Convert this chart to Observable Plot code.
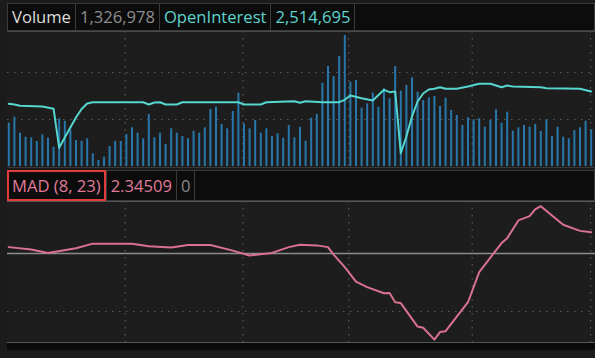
<!DOCTYPE html>
<html>
<head>
<meta charset="utf-8">
<script src="https://cdn.jsdelivr.net/npm/d3@7"></script>
<script src="https://cdn.jsdelivr.net/npm/@observablehq/plot@0.6"></script>
<style>
  html, body { margin: 0; padding: 0; background: #1b1b1b; width: 595px; height: 358px; overflow: hidden; font-family: "Open Sans", sans-serif; }
  .hdr { position: absolute; left: 7px; right: 0; height: 28px; background: #0c0c0c; display: flex; }
  .box { height: 26px; line-height: 26px; border: 1px solid #3a3a3a; border-right: none; font-size: 16.6px; padding: 0 4px; white-space: nowrap; box-sizing: content-box; }
  .box.fill { flex: 1; border-right: 1px solid #3a3a3a; }
  .panel { position: absolute; left: 7px; width: 588px; background: #1d1d1d; }
  .hline { position: absolute; left: 7px; width: 588px; height: 1px; background: #4a4a4a; }
  svg { display: block; }
</style>
</head>
<body>
<div id="hdr1" class="hdr" style="top:3px"></div>
<div id="top" class="panel" style="top:31px;height:136px"></div>
<div class="hline" style="top:31px"></div>
<div class="hline" style="top:167px;background:#3a3a3a"></div>
<div id="hdr2" class="hdr" style="top:170px;height:31px"></div>
<div id="bot" class="panel" style="top:201px;height:142px"></div>
<div class="hline" style="top:201px;background:#555"></div>
<div class="hline" style="top:342px;background:#555"></div>
<div style="position:absolute;left:7px;top:343px;width:588px;height:7px;background:#0b0b0b"></div>
<script>
// ---- header texts ----
const topHeader = [
  {text: "Volume", color: "#dcdcdc"},
  {text: "1,326,978", color: "#8e8e8e"},
  {text: "OpenInterest", color: "#5fd3cd"},
  {text: "2,514,695", color: "#5fd3cd"}
];
const madHeader = [
  {text: "MAD (8, 23)", color: "#e07c98"},
  {text: "2.34509", color: "#e07c98"},
  {text: "0", color: "#8a8a8a"}
];

// ---- data (bar index = trading day) ----
const volume = [43.3,49.3,33.3,29.3,28.7,25,31.7,28.3,19.3,47.7,45.3,36,26,25.3,27.7,12.7,6,9.3,20,25,25,32,38.7,33.3,27.7,52,28.7,33.3,22,37.7,33.3,30,27.7,35.3,33.3,38.7,57,59.3,42,37.7,55,73.3,42.7,37.7,46,33.3,37.7,30,32.7,28.3,41,28.7,
  39.3,25.3,48.3,52,83.3,100,90,110,131,84.3,86,58.3,62.7,73.3,59.3,77.7,67.7,100,75.3,81,88.7,74.3,66,68.7,70,60,68.3,56,51,41,48.7,46.7,47.7,39.3,46,56.7,43.3,54.3,35.3,38.7,41,39.3,42,35,46.7,30,39.3,29.3,27.7,36,38.7,45.3,36.7];

const oiDay = [0,1,2,6,8,9,10,11,12,13,14,15,24,25,26,27,28,30,31,41,42,45,46,51,52,53,56,59,60,61,63,65,67,68,69,70,71,72,73,74,75,76,77,78,80,82,84,86,88,89,90,95,96,102,104];
const oiVal = [62.7,62,60.7,60,57.7,18.7,29,39,49,57.5,63,64.3,64.3,62,64,64.3,62,62,64.3,64.3,62,62,64.3,65.3,63.7,65.3,64.3,64.3,66.7,71,68.3,66,76.7,74.3,75,13.3,30,50,65,73,77,77.7,79.3,77.7,77.7,80,82.7,82.7,79.3,81,80,79.3,78.3,77.7,75];

const madDay = [0,4,7,12,15,22,25,29,32,36,40,43,47,50,52,55,57,58,60,62,64,67,68,69,70,73,74,76,77,78,82,84,88,89,91,93,94,95,97,99,102,104];
const madVal = [0.22,0.14,0.02,0.18,0.34,0.34,0.25,0.21,0.29,0.29,0.10,-0.07,0.02,0.22,0.30,0.28,0.22,-0.04,-0.47,-0.97,-1.16,-1.37,-1.36,-1.68,-1.71,-2.52,-2.56,-2.97,-2.71,-2.68,-1.68,-0.64,0.36,0.53,1.14,1.29,1.52,1.63,1.31,0.99,0.78,0.73];

const monthBreaks = [20.8, 41.8, 60.7, 82.75, 103.9];
const volumeGrid = [47, 94];
const madGrid = [-2];
const madZero = [0];

// ---- headers ----
function header(id, items, firstStyle) {
  const el = document.getElementById(id);
  items.forEach((it, i) => {
    const d = document.createElement("div");
    d.className = "box";
    d.textContent = it.text;
    d.style.color = it.color;
    if (firstStyle && i === 0) Object.assign(d.style, firstStyle);
    el.appendChild(d);
  });
  const f = document.createElement("div");
  f.className = "box fill";
  el.appendChild(f);
}
header("hdr1", topHeader);
header("hdr2", madHeader, {border: "2px solid #e23b3b", height: "27px", lineHeight: "27px", padding: "0 3px"});
document.querySelectorAll("#hdr2 .box").forEach((b, i) => { if (i > 0) { b.style.height = "29px"; b.style.lineHeight = "29px"; } });

const xDomain = [-0.23, 104.77];
const dotted = {stroke: "#5a5a5a", strokeDasharray: "1.5,5.5", strokeWidth: 1.2};

const vol = volume.map((v, i) => ({day: i, v}));
const oi = oiDay.map((d, i) => ({day: d, v: oiVal[i]}));
const mad = madDay.map((d, i) => ({day: d, v: madVal[i]}));

const topPlot = Plot.plot({
  width: 588, height: 136,
  marginTop: 0, marginBottom: 1, marginLeft: 0, marginRight: 0,
  style: {background: "transparent"},
  x: {domain: xDomain, axis: null},
  y: {domain: [0, 135], axis: null},
  marks: [
    Plot.ruleY(volumeGrid, dotted),
    Plot.ruleX(monthBreaks, dotted),
    Plot.ruleX(vol, {x: "day", y1: 0, y2: "v", stroke: "#2877ab", strokeWidth: 2}),
    Plot.line(oi, {x: "day", y: "v", stroke: "#55d6cf", strokeWidth: 2})
  ]
});
document.getElementById("top").appendChild(topPlot);

const botPlot = Plot.plot({
  width: 588, height: 142,
  marginTop: 0, marginBottom: 0, marginLeft: 0, marginRight: 0,
  style: {background: "transparent"},
  x: {domain: xDomain, axis: null},
  y: {domain: [-3.103, 1.793], axis: null},
  marks: [
    Plot.ruleY(madGrid, dotted),
    Plot.ruleX(monthBreaks, dotted),
    Plot.ruleY(madZero, {stroke: "#8c8c8c", strokeWidth: 1.6}),
    Plot.line(mad, {x: "day", y: "v", stroke: "#d9718f", strokeWidth: 2})
  ]
});
document.getElementById("bot").appendChild(botPlot);
</script>
</body>
</html>
